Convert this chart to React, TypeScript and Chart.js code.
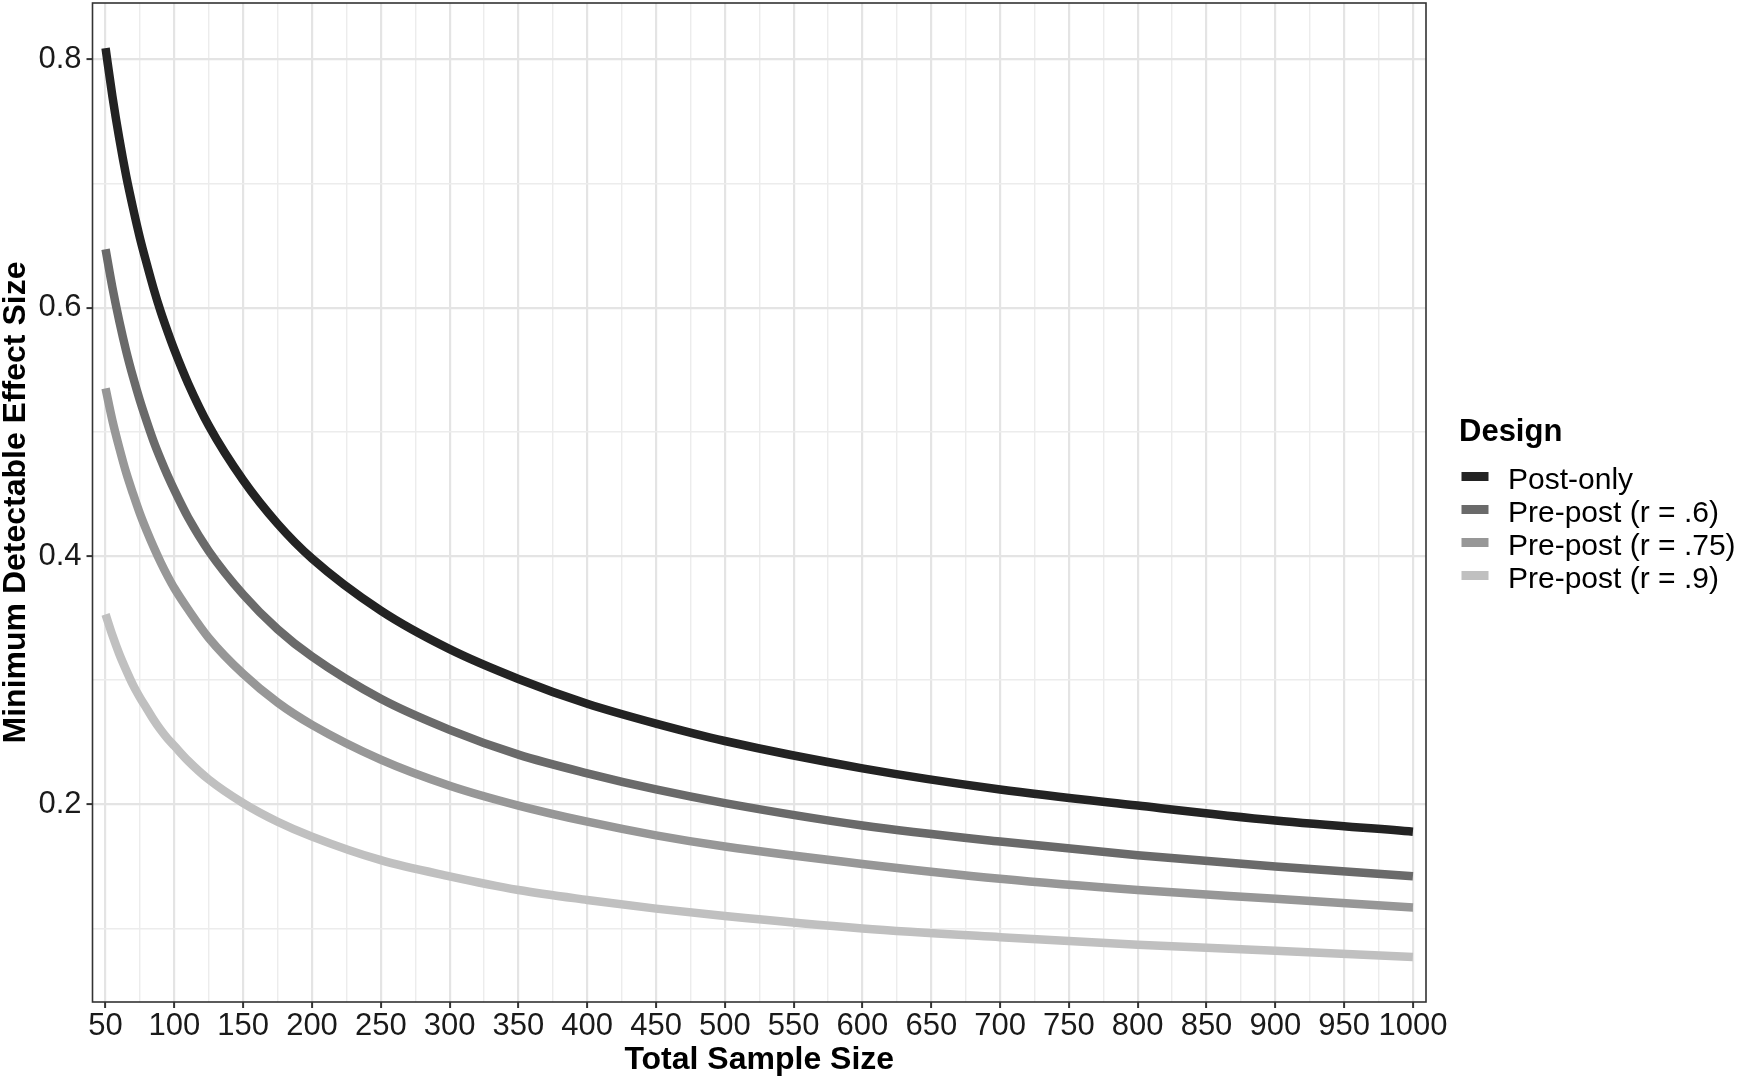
import React, { useEffect, useRef } from "react";
import { Chart, registerables } from "chart.js";

Chart.register(...registerables);

// ---- Data ----
const sampleSizes = [50, 55, 60, 65, 70, 75, 80, 85, 90, 95, 100, 110, 125, 150, 175, 200, 250, 300, 350, 400, 450, 500, 600, 700, 800, 900, 1000];
const postOnly = [0.809, 0.770, 0.736, 0.706, 0.680, 0.656, 0.635, 0.615, 0.597, 0.581, 0.566, 0.539, 0.505, 0.461, 0.426, 0.398, 0.356, 0.325, 0.301, 0.281, 0.265, 0.251, 0.229, 0.212, 0.199, 0.187, 0.178];
const prePost60 = [0.647, 0.616, 0.589, 0.565, 0.544, 0.525, 0.508, 0.492, 0.478, 0.465, 0.453, 0.431, 0.404, 0.369, 0.341, 0.319, 0.285, 0.260, 0.240, 0.225, 0.212, 0.201, 0.183, 0.170, 0.159, 0.150, 0.142];
const prePost75 = [0.535, 0.509, 0.487, 0.467, 0.450, 0.434, 0.420, 0.407, 0.395, 0.384, 0.374, 0.357, 0.334, 0.305, 0.282, 0.264, 0.236, 0.215, 0.199, 0.186, 0.175, 0.166, 0.152, 0.140, 0.131, 0.124, 0.117];
const prePost90 = [0.353, 0.336, 0.321, 0.308, 0.296, 0.286, 0.277, 0.268, 0.260, 0.253, 0.247, 0.235, 0.220, 0.201, 0.186, 0.174, 0.155, 0.142, 0.131, 0.123, 0.116, 0.110, 0.100, 0.093, 0.087, 0.082, 0.077];

const seriesNames = ["Post-only", "Pre-post (r = .6)", "Pre-post (r = .75)", "Pre-post (r = .9)"];
const seriesValues = [postOnly, prePost60, prePost75, prePost90];
const seriesColors = ["#232323", "#6a6a6a", "#979797", "#c0c0c0"];

const xMajorTicks = [50, 100, 150, 200, 250, 300, 350, 400, 450, 500, 550, 600, 650, 700, 750, 800, 850, 900, 950, 1000];
const xMinorGrid = [75, 125, 175, 225, 275, 325, 375, 425, 475, 525, 575, 625, 675, 725, 775, 825, 875, 925, 975];
const yMajorTicks = [0.2, 0.4, 0.6, 0.8];
const yMinorGrid = [0.1, 0.3, 0.5, 0.7];

const xTitle = "Total Sample Size";
const yTitle = "Minimum Detectable Effect Size";
const legendTitle = "Design";

const FONT = '"Liberation Sans", Arial, Helvetica, sans-serif';

export default function App() {
  const canvasRef = useRef<HTMLCanvasElement | null>(null);

  useEffect(() => {
    const canvas = canvasRef.current;
    if (!canvas) return;

    const xMajorSet = new Set(xMajorTicks);
    const yMajorSet = new Set(yMajorTicks.map((v) => v.toFixed(1)));
    const isYMajor = (c: any) => !!c.tick && yMajorSet.has(Number(c.tick.value).toFixed(1));

    const overlay = {
      id: "overlay",
      afterDatasetsDraw(chart: any) {
        const ctx = chart.ctx as CanvasRenderingContext2D;
        const a = chart.chartArea;
        ctx.save();
        ctx.strokeStyle = "#333333";
        ctx.lineWidth = 1.6;
        ctx.strokeRect(a.left, a.top, a.right - a.left, a.bottom - a.top);
        ctx.restore();
      },
      afterDraw(chart: any) {
        const ctx = chart.ctx as CanvasRenderingContext2D;
        const a = chart.chartArea;
        ctx.save();
        ctx.fillStyle = "#000000";
        // x axis title
        ctx.font = `bold 32px ${FONT}`;
        ctx.textAlign = "center";
        ctx.textBaseline = "alphabetic";
        ctx.fillText(xTitle, (a.left + a.right) / 2, 1069);
        // y axis title
        ctx.save();
        ctx.translate(25, (a.top + a.bottom) / 2);
        ctx.rotate(-Math.PI / 2);
        ctx.fillText(yTitle, 0, 0);
        ctx.restore();
        // legend
        ctx.textAlign = "left";
        ctx.font = `bold 31px ${FONT}`;
        ctx.fillText(legendTitle, 1459, 441);
        ctx.font = `30px ${FONT}`;
        const rowStart = 476.5;
        const rowStep = 33;
        seriesNames.forEach((name, i) => {
          const cy = rowStart + i * rowStep;
          ctx.fillStyle = seriesColors[i];
          ctx.fillRect(1461.5, cy - 4.5, 27, 9);
          ctx.fillStyle = "#000000";
          ctx.fillText(name, 1508, cy + 12);
        });
        ctx.restore();
      },
    };

    const chart = new Chart(canvas, {
      type: "line",
      data: {
        datasets: seriesNames.map((name, i) => ({
          label: name,
          data: sampleSizes.map((x, j) => ({ x, y: seriesValues[i][j] })),
          borderColor: seriesColors[i],
          backgroundColor: seriesColors[i],
          borderWidth: 8.5,
          pointRadius: 0,
          pointHoverRadius: 0,
          fill: false,
          cubicInterpolationMode: "monotone" as const,
          borderCapStyle: "butt" as const,
          borderJoinStyle: "round" as const,
        })),
      },
      options: {
        responsive: false,
        animation: false,
        devicePixelRatio: 1,
        layout: { padding: { left: 0, top: 3, right: 328, bottom: 0 } },
        plugins: {
          legend: { display: false },
          tooltip: { enabled: false },
          title: { display: false },
        },
        scales: {
          x: {
            type: "linear",
            min: 40.5,
            max: 1009.5,
            afterBuildTicks: (s: any) => {
              s.ticks = [...xMajorTicks, ...xMinorGrid].sort((p, q) => p - q).map((v) => ({ value: v }));
            },
            afterFit: (s: any) => {
              s.height = 78;
              s.paddingLeft = 0;
              s.paddingRight = 0;
              s.paddingTop = 0;
              s.paddingBottom = 0;
            },
            border: { display: false },
            grid: {
              color: (c: any) => (xMajorSet.has(c.tick?.value) ? "#e4e4e4" : "#ececec"),
              lineWidth: (c: any) => (xMajorSet.has(c.tick?.value) ? 2.2 : 1.4),
              tickColor: (c: any) => (xMajorSet.has(c.tick?.value) ? "#333333" : "rgba(0,0,0,0)"),
              tickLength: 6,
              tickWidth: 2,
            },
            ticks: {
              autoSkip: false,
              maxRotation: 0,
              minRotation: 0,
              padding: 0,
              color: "#1a1a1a",
              font: { size: 31, family: FONT },
              callback: (v: any) => (xMajorSet.has(Number(v)) ? String(v) : ""),
            },
          },
          y: {
            type: "linear",
            min: 0.0408,
            max: 0.8454,
            afterBuildTicks: (s: any) => {
              s.ticks = [...yMajorTicks, ...yMinorGrid].sort((p, q) => p - q).map((v) => ({ value: v }));
            },
            afterFit: (s: any) => {
              s.width = 92.5;
              s.paddingLeft = 0;
              s.paddingRight = 0;
              s.paddingTop = 0;
              s.paddingBottom = 0;
            },
            border: { display: false },
            grid: {
              color: (c: any) => (isYMajor(c) ? "#e4e4e4" : "#ececec"),
              lineWidth: (c: any) => (isYMajor(c) ? 2.2 : 1.4),
              tickColor: (c: any) => (isYMajor(c) ? "#333333" : "rgba(0,0,0,0)"),
              tickLength: 6,
              tickWidth: 2,
            },
            ticks: {
              autoSkip: false,
              padding: 5,
              color: "#1a1a1a",
              font: { size: 31, family: FONT },
              callback: (v: any) => {
                const s = Number(v).toFixed(1);
                return yMajorSet.has(s) ? s : "";
              },
            },
          },
        },
      },
      plugins: [overlay],
    } as any);

    return () => {
      chart.destroy();
    };
  }, []);

  return (
    <div style={{ position: "absolute", left: 0, top: 0, width: 1754, height: 1080, background: "#ffffff" }}>
      <canvas ref={canvasRef} width={1754} height={1080} style={{ display: "block" }} />
    </div>
  );
}
